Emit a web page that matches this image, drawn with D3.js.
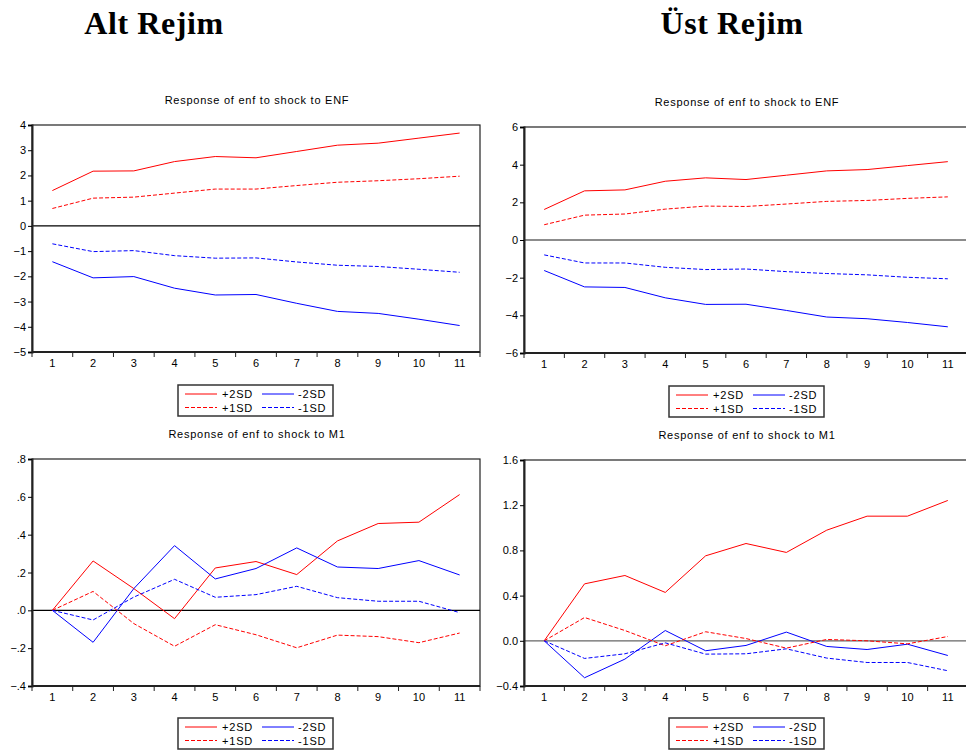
<!DOCTYPE html>
<html>
<head>
<meta charset="utf-8">
<script src="https://cdn.jsdelivr.net/npm/d3@7"></script>
<style>
  body { margin: 0; background: #fff; }
  svg { display: block; font-family: "Liberation Sans", Arial, sans-serif; }
  .hdr { font-family: "Liberation Serif", "DejaVu Serif", serif; font-weight: bold; font-size: 32px; letter-spacing: 0.6px; }
  .title { font-size: 11px; letter-spacing: 0.75px; }
  .tick text { font-size: 11px; fill: #000; }
</style>
</head>
<body>
<script>
// periods 1..11
var periods = [1, 2, 3, 4, 5, 6, 7, 8, 9, 10, 11]
var seriesNames = ["+2SD", "-2SD", "+1SD", "-1SD"]

// Alt rejim, shock to ENF
var altEnfP2 = [1.40, 2.17, 2.18, 2.55, 2.75, 2.70, 2.95, 3.20, 3.28, 3.48, 3.68]
var altEnfP1 = [0.69, 1.10, 1.14, 1.30, 1.46, 1.46, 1.60, 1.73, 1.79, 1.87, 1.97]
var altEnfM1 = [-0.71, -1.02, -0.98, -1.18, -1.28, -1.27, -1.43, -1.56, -1.61, -1.72, -1.84]
var altEnfM2 = [-1.42, -2.06, -2.01, -2.47, -2.74, -2.72, -3.07, -3.39, -3.47, -3.70, -3.95]

// Üst rejim, shock to ENF
var ustEnfP2 = [1.62, 2.61, 2.66, 3.12, 3.30, 3.21, 3.44, 3.67, 3.74, 3.95, 4.16]
var ustEnfP1 = [0.81, 1.32, 1.38, 1.64, 1.80, 1.78, 1.91, 2.05, 2.10, 2.21, 2.29]
var ustEnfM1 = [-0.79, -1.22, -1.22, -1.45, -1.57, -1.54, -1.68, -1.78, -1.85, -1.98, -2.06]
var ustEnfM2 = [-1.62, -2.49, -2.52, -3.07, -3.42, -3.41, -3.74, -4.09, -4.18, -4.38, -4.61]

// Alt rejim, shock to M1
var altM1P2 = [0, 0.261, 0.115, -0.044, 0.224, 0.258, 0.189, 0.367, 0.459, 0.466, 0.612]
var altM1P1 = [0, 0.100, -0.070, -0.190, -0.076, -0.129, -0.198, -0.131, -0.139, -0.171, -0.120]
var altM1M1 = [0, -0.051, 0.070, 0.164, 0.069, 0.083, 0.127, 0.067, 0.048, 0.048, -0.012]
var altM1M2 = [0, -0.169, 0.115, 0.342, 0.166, 0.221, 0.330, 0.229, 0.221, 0.263, 0.187]

// Üst rejim, shock to M1
var ustM1P2 = [0, 0.504, 0.578, 0.428, 0.752, 0.861, 0.782, 0.979, 1.103, 1.103, 1.242]
var ustM1P1 = [0, 0.206, 0.091, -0.044, 0.080, 0.020, -0.065, 0.012, 0.000, -0.027, 0.038]
var ustM1M1 = [0, -0.156, -0.115, -0.018, -0.118, -0.115, -0.071, -0.153, -0.192, -0.192, -0.265]
var ustM1M2 = [0, -0.327, -0.162, 0.091, -0.088, -0.041, 0.077, -0.050, -0.077, -0.030, -0.130]

var svg = d3.select("body").append("svg")
  .attr("width", 966)
  .attr("height", 753)

svg.append("text").attr("class", "hdr").attr("x", 154).attr("y", 34)
  .attr("text-anchor", "middle").text("Alt Rejim")
svg.append("text").attr("class", "hdr").attr("x", 732).attr("y", 34)
  .attr("text-anchor", "middle").text("Üst Rejim")

var styles = {
  "+2SD": {color: "#ff0000", dash: null},
  "-2SD": {color: "#0000ff", dash: null},
  "+1SD": {color: "#ff0000", dash: "4,2"},
  "-1SD": {color: "#0000ff", dash: "4,2"}
}

function drawPanel(p) {
  var g = svg.append("g")

  var x = d3.scaleBand().domain(periods).range([p.left, p.right])
  var y = d3.scaleLinear().domain(p.domain).range([p.bottom, p.top])

  g.append("text").attr("class", "title")
    .attr("x", p.titleX).attr("y", p.top - 21)
    .attr("text-anchor", "middle")
    .text(p.title)

  // frame (thin top / right)
  g.append("rect")
    .attr("x", p.left).attr("y", p.top)
    .attr("width", p.right - p.left).attr("height", p.bottom - p.top)
    .attr("fill", "none").attr("stroke", "#222").attr("stroke-width", 1.2)

  // zero line
  g.append("line")
    .attr("x1", p.left).attr("x2", p.right)
    .attr("y1", y(0)).attr("y2", y(0))
    .attr("stroke", p.zeroColor).attr("stroke-width", 1.3)

  // y axis
  var yAxis = d3.axisLeft(y).tickValues(p.ticks).tickFormat(p.fmt).tickSize(4).tickPadding(2)
  g.append("g").attr("transform", "translate(" + p.left + ",0)").call(yAxis)
    .call(function (a) { a.select(".domain").attr("stroke", "#222").attr("stroke-width", 2) })

  // x axis: ticks at band edges, labels at centres
  var edges = periods.map(function (d) { return x(d) }).concat([p.right])
  var xa = g.append("g")
  xa.append("line").attr("x1", p.left).attr("x2", p.right)
    .attr("y1", p.bottom).attr("y2", p.bottom)
    .attr("stroke", "#222").attr("stroke-width", 2)
  xa.selectAll(".xt").data(edges).enter().append("line")
    .attr("x1", function (d) { return d }).attr("x2", function (d) { return d })
    .attr("y1", p.bottom).attr("y2", p.bottom + 5)
    .attr("stroke", "#222")
  xa.selectAll(".xl").data(periods).enter().append("text")
    .attr("x", function (d) { return x(d) + x.bandwidth() / 2 })
    .attr("y", p.bottom + 15)
    .attr("text-anchor", "middle")
    .attr("font-size", "11px")
    .text(function (d) { return d })

  var line = d3.line()
    .x(function (d, i) { return x(periods[i]) + x.bandwidth() / 2 })
    .y(function (d) { return y(d) })

  seriesNames.forEach(function (name) {
    g.append("path")
      .datum(p.series[name])
      .attr("d", line)
      .attr("fill", "none")
      .attr("stroke", styles[name].color)
      .attr("stroke-width", 1)
      .attr("stroke-dasharray", styles[name].dash)
  })

  // legend
  var lg = g.append("g").attr("transform", "translate(" + p.legX + "," + p.legY + ")")
  lg.append("rect").attr("x", 0).attr("y", 0).attr("width", 155).attr("height", 31)
    .attr("fill", "#fff").attr("stroke", "#333").attr("stroke-width", 1.5)
  seriesNames.forEach(function (name, i) {
    var col = i % 2, row = Math.floor(i / 2)
    var lx = 7 + col * 77, ly = 9 + row * 13.5
    lg.append("line").attr("x1", lx).attr("x2", lx + 32)
      .attr("y1", ly).attr("y2", ly)
      .attr("stroke", styles[name].color)
      .attr("stroke-dasharray", styles[name].dash)
    lg.append("text").attr("x", lx + (col ? 36 : 37)).attr("y", ly + 4)
      .attr("font-size", "11px").attr("letter-spacing", "0.8px")
      .text(name)
  })
}

var fmtDot = function (d) { return d === 0 ? ".0" : d3.format(".1f")(d).replace("0.", ".") }

drawPanel({
  title: "Response of enf to shock to ENF", titleX: 257,
  left: 32, right: 480, top: 125, bottom: 352,
  domain: [-5, 4], ticks: d3.range(-5, 5, 1), fmt: d3.format("d"),
  zeroColor: "#000", legX: 178, legY: 385,
  series: {"+2SD": altEnfP2, "-2SD": altEnfM2, "+1SD": altEnfP1, "-1SD": altEnfM1}
})

drawPanel({
  title: "Response of enf to shock to ENF", titleX: 747,
  left: 524, right: 968, top: 127, bottom: 353,
  domain: [-6, 6], ticks: d3.range(-6, 7, 2), fmt: d3.format("d"),
  zeroColor: "#666", legX: 669, legY: 386,
  series: {"+2SD": ustEnfP2, "-2SD": ustEnfM2, "+1SD": ustEnfP1, "-1SD": ustEnfM1}
})

drawPanel({
  title: "Response of enf to shock to M1", titleX: 257,
  left: 32, right: 480, top: 459, bottom: 686,
  domain: [-0.4, 0.8], ticks: [-0.4, -0.2, 0, 0.2, 0.4, 0.6, 0.8], fmt: fmtDot,
  zeroColor: "#000", legX: 178, legY: 718,
  series: {"+2SD": altM1P2, "-2SD": altM1M2, "+1SD": altM1P1, "-1SD": altM1M1}
})

drawPanel({
  title: "Response of enf to shock to M1", titleX: 747,
  left: 524, right: 968, top: 460, bottom: 686,
  domain: [-0.4, 1.6], ticks: [-0.4, 0, 0.4, 0.8, 1.2, 1.6], fmt: d3.format(".1f"),
  zeroColor: "#666", legX: 669, legY: 718,
  series: {"+2SD": ustM1P2, "-2SD": ustM1M2, "+1SD": ustM1P1, "-1SD": ustM1M1}
})
</script>
</body>
</html>
